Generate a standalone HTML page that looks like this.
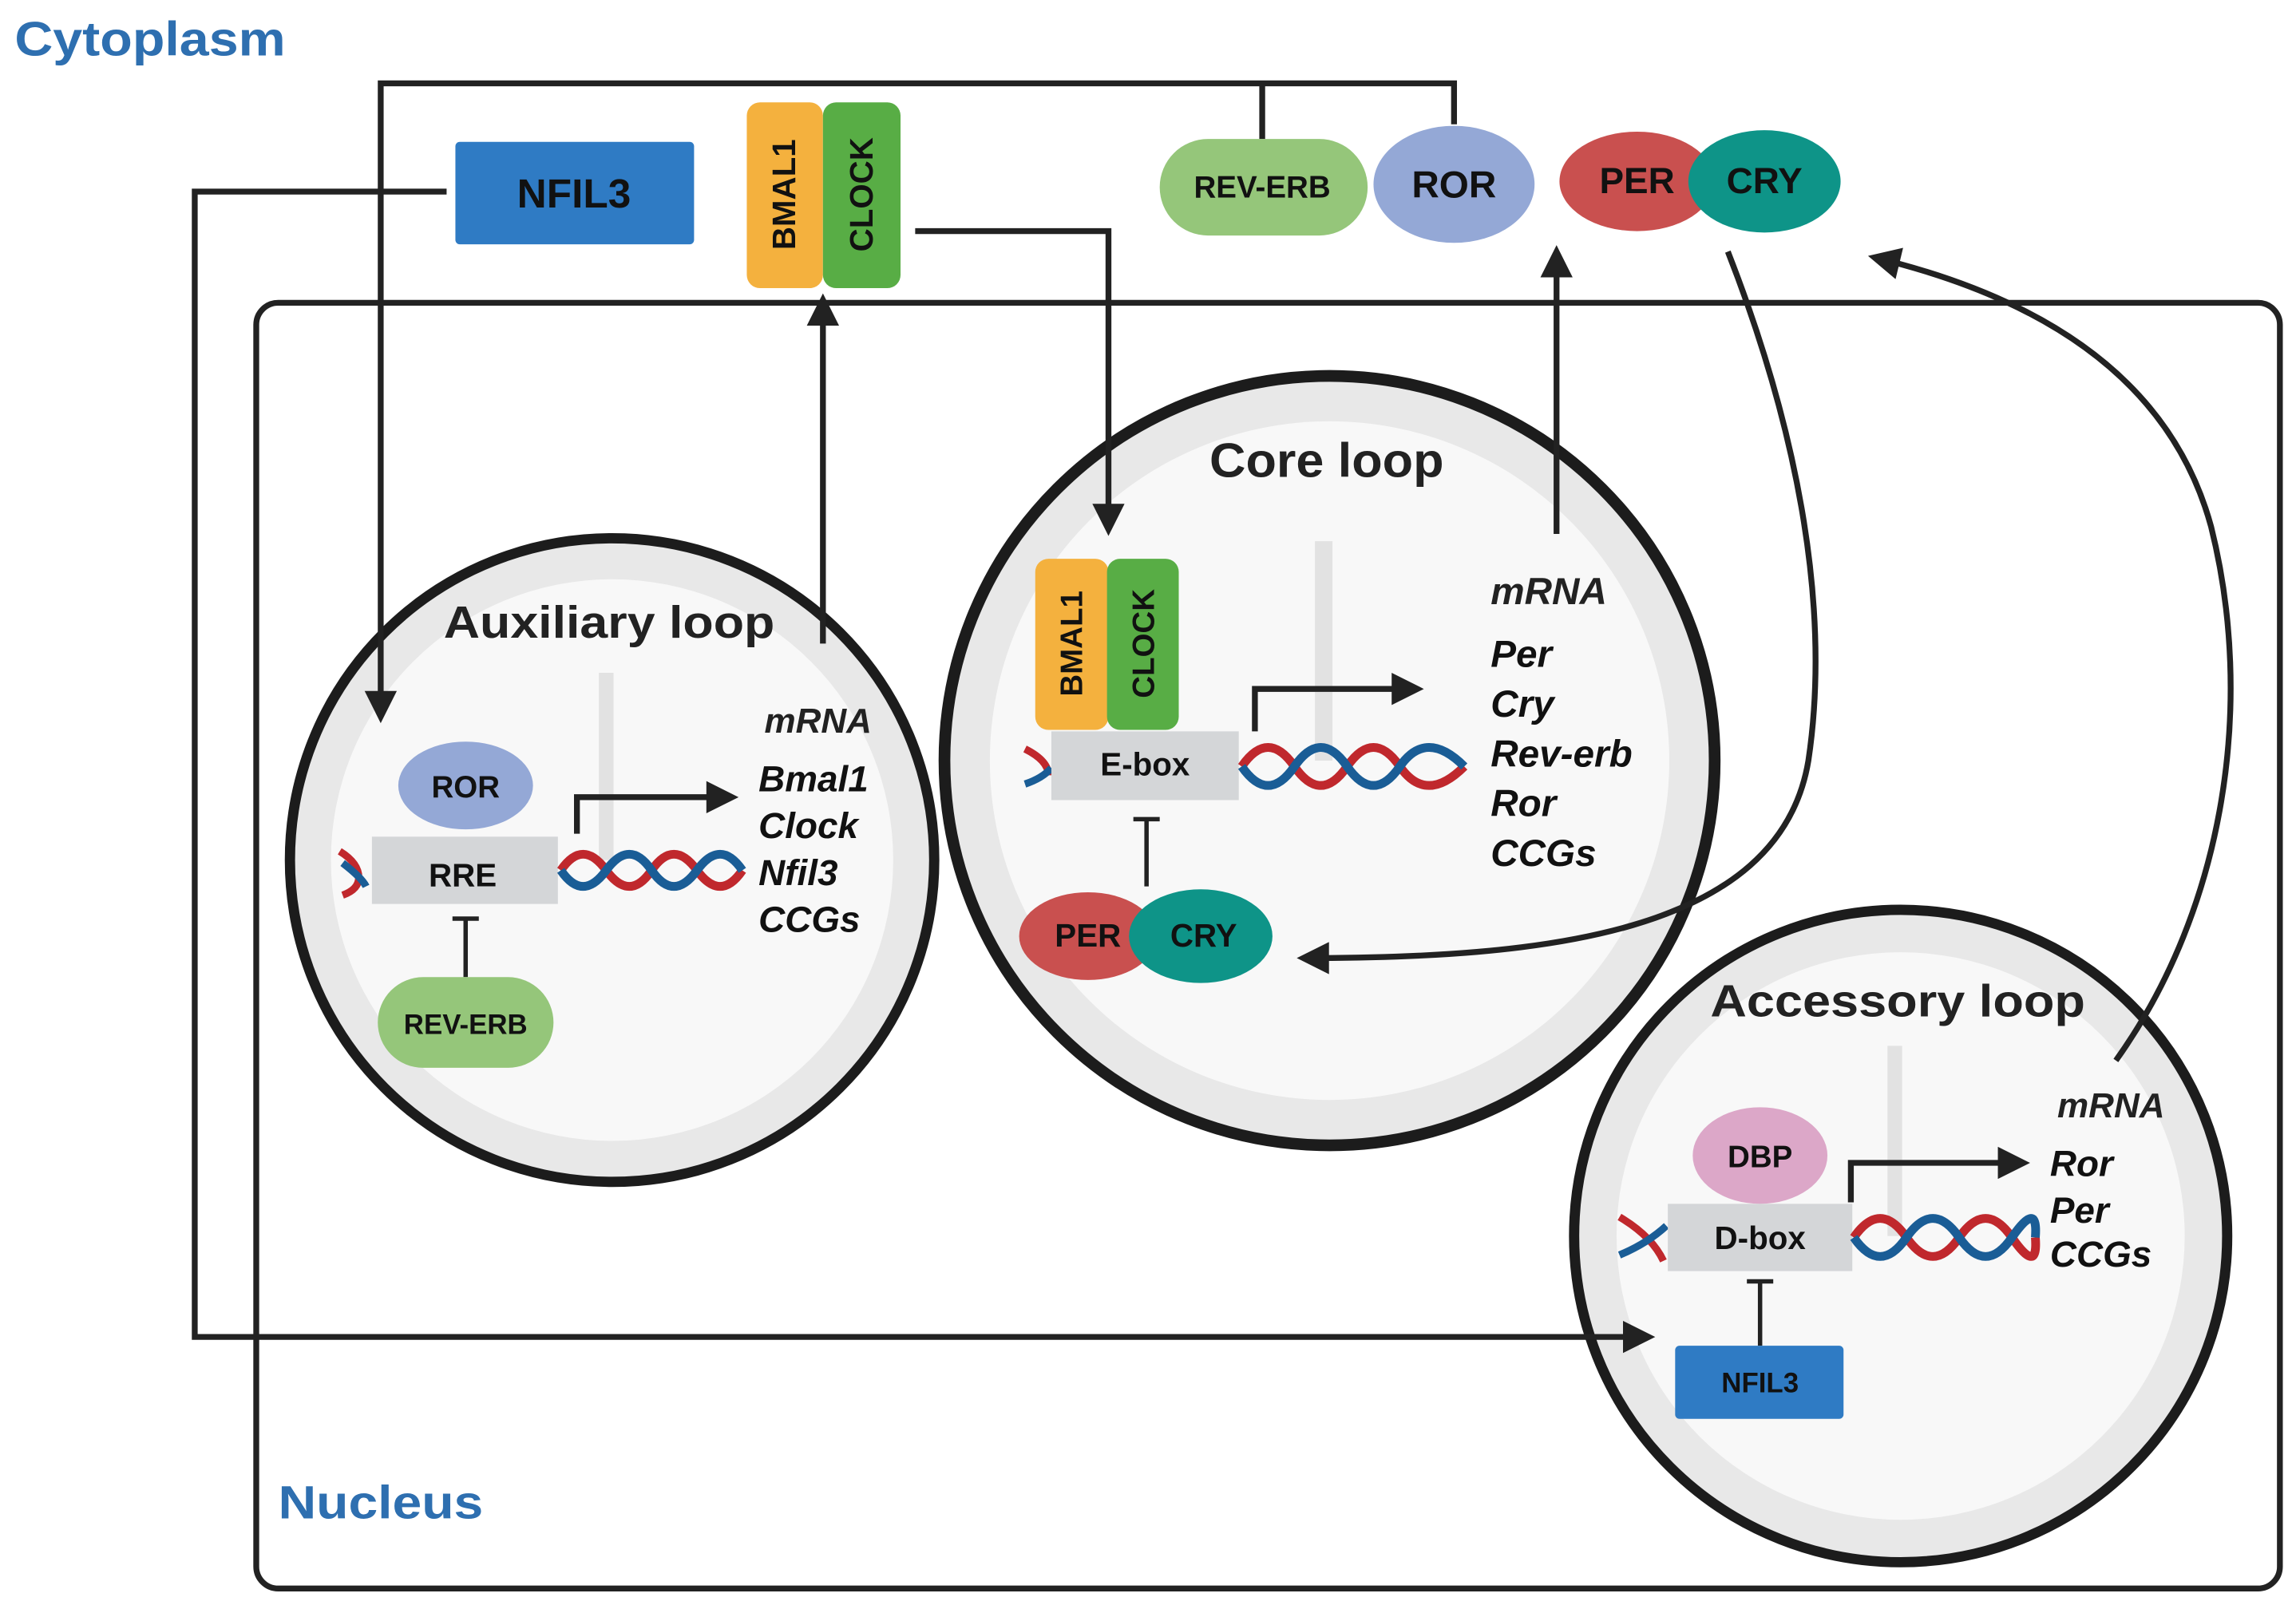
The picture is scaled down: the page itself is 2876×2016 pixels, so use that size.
<!DOCTYPE html>
<html><head><meta charset="utf-8"><style>
html,body{margin:0;padding:0;background:#fff;}
svg{display:block;}
text{font-family:"Liberation Sans",sans-serif;font-weight:bold;}
</style></head><body>
<svg width="2876" height="2016" viewBox="0 0 1568 1100" preserveAspectRatio="none" xmlns="http://www.w3.org/2000/svg">
<defs>
<marker id="a2" viewBox="0 0 10 10" refX="8" refY="5" markerWidth="24" markerHeight="22" orient="auto" markerUnits="userSpaceOnUse"><path d="M0,0 L10,5 L0,10 z" fill="#222"/></marker>
</defs>
<text x="10" y="38" font-size="33" fill="#2e6fb0" textLength="185" lengthAdjust="spacingAndGlyphs">Cytoplasm</text>
<rect x="175" y="207" width="1382" height="879" rx="15" fill="none" stroke="#222" stroke-width="4"/>
<text x="190" y="1038" font-size="32" fill="#2e6fb0" textLength="140" lengthAdjust="spacingAndGlyphs">Nucleus</text>

<g>
<circle cx="418" cy="588" r="220" fill="#e8e8e8" stroke="#1c1c1c" stroke-width="7"/>
<circle cx="418" cy="588" r="192" fill="#f8f8f8"/>
<line x1="414" y1="460" x2="414" y2="588" stroke="#e2e2e2" stroke-width="10"/>
<circle cx="908" cy="520" r="263" fill="#e8e8e8" stroke="#1c1c1c" stroke-width="8"/>
<circle cx="908" cy="520" r="232" fill="#f8f8f8"/>
<line x1="904" y1="370" x2="904" y2="520" stroke="#e2e2e2" stroke-width="12"/>
<circle cx="1298" cy="845" r="223" fill="#e8e8e8" stroke="#1c1c1c" stroke-width="7"/>
<circle cx="1298" cy="845" r="194" fill="#f8f8f8"/>
<line x1="1294" y1="715" x2="1294" y2="845" stroke="#e2e2e2" stroke-width="10"/>
</g>

<g fill="none" stroke="#222" stroke-width="4">
<path d="M993,85 V57 H260 V490" marker-end="url(#a2)"/>
<path d="M862,95 V57"/>
<path d="M305,131 H133 V914 H1126" marker-end="url(#a2)"/>
<path d="M625,158 H757 V362" marker-end="url(#a2)"/>
<path d="M562,440 V205" marker-end="url(#a2)"/>
<path d="M1063,365 V172" marker-end="url(#a2)"/>
<path d="M1180,172 C1230,300 1250,420 1235,520 C1215,640 1050,655 890,655" marker-end="url(#a2)"/>
<path d="M1445,725 C1520,620 1540,480 1510,360 C1480,250 1380,200 1280,176" marker-end="url(#a2)"/>
</g>

<rect x="311" y="97" width="163" height="70" rx="3" fill="#2f7bc4"/>
<text x="392" y="142" font-size="28" text-anchor="middle" fill="#111">NFIL3</text>
<rect x="510" y="70" width="52" height="127" rx="9" fill="#f4b13e"/>
<rect x="562" y="70" width="53" height="127" rx="9" fill="#58ad45"/>
<text transform="translate(543,133) rotate(-90)" font-size="22" text-anchor="middle" fill="#111">BMAL1</text>
<text transform="translate(596,133) rotate(-90)" font-size="22" text-anchor="middle" fill="#111">CLOCK</text>
<rect x="792" y="95" width="142" height="66" rx="33" fill="#95c67a"/>
<text x="862" y="135" font-size="21" text-anchor="middle" fill="#111">REV-ERB</text>
<ellipse cx="993" cy="126" rx="55" ry="40" fill="#94a8d6"/>
<text x="993" y="135" font-size="26" text-anchor="middle" fill="#111">ROR</text>
<ellipse cx="1118" cy="124" rx="53" ry="34" fill="#c9504f"/>
<ellipse cx="1205" cy="124" rx="52" ry="35" fill="#0e9488"/>
<text x="1118" y="132" font-size="25" text-anchor="middle" fill="#111">PER</text>
<text x="1205" y="132" font-size="25" text-anchor="middle" fill="#111">CRY</text>

<text x="416" y="436" font-size="31" text-anchor="middle" fill="#222" textLength="226" lengthAdjust="spacingAndGlyphs">Auxiliary loop</text>
<ellipse cx="318" cy="537" rx="46" ry="30" fill="#94a8d6"/>
<text x="318" y="545" font-size="21" text-anchor="middle" fill="#111">ROR</text>
<path d="M232,582 Q245,590 245,600 Q245,608 234,612" fill="none" stroke="#c0282d" stroke-width="5"/>
<path d="M234,590 Q247,600 250,606" fill="none" stroke="#1a5d96" stroke-width="5"/>
<rect x="254" y="572" width="127" height="46" fill="#d4d6d8"/>
<text x="316" y="606" font-size="22" text-anchor="middle" fill="#111">RRE</text>
<path d="M383,595 Q398,573 414,595 T445,595 T476,595 T507,595" fill="none" stroke="#c0282d" stroke-width="6"/>
<path d="M383,595 Q398,617 414,595 T445,595 T476,595 T507,595" fill="none" stroke="#1a5d96" stroke-width="6"/>
<path d="M394,570 V545 H500" fill="none" stroke="#222" stroke-width="4" marker-end="url(#a2)"/>
<line x1="318" y1="668" x2="318" y2="628" stroke="#222" stroke-width="3"/>
<line x1="309" y1="628" x2="327" y2="628" stroke="#222" stroke-width="3"/>
<rect x="258" y="668" width="120" height="62" rx="31" fill="#95c67a"/>
<text x="318" y="707" font-size="19" text-anchor="middle" fill="#111">REV-ERB</text>
<text x="522" y="501" font-size="24" font-style="italic" font-weight="normal" fill="#222">mRNA</text>
<g font-size="25" font-style="italic" fill="#111">
<text x="518" y="541">Bmal1</text><text x="518" y="573">Clock</text><text x="518" y="605">Nfil3</text><text x="518" y="637">CCGs</text></g>

<text x="906" y="326" font-size="33" text-anchor="middle" fill="#222" textLength="160" lengthAdjust="spacingAndGlyphs">Core loop</text>
<rect x="707" y="382" width="50" height="117" rx="9" fill="#f4b13e"/>
<rect x="756" y="382" width="49" height="117" rx="9" fill="#58ad45"/>
<text transform="translate(739,440) rotate(-90)" font-size="21" text-anchor="middle" fill="#111">BMAL1</text>
<text transform="translate(788,440) rotate(-90)" font-size="21" text-anchor="middle" fill="#111">CLOCK</text>
<path d="M700,512 Q716,520 716,530" fill="none" stroke="#c0282d" stroke-width="5"/>
<path d="M700,536 Q712,532 718,525" fill="none" stroke="#1a5d96" stroke-width="5"/>
<rect x="718" y="500" width="128" height="47" fill="#d4d6d8"/>
<text x="782" y="530" font-size="22" text-anchor="middle" fill="#111">E-box</text>
<path d="M848,524 Q866,498 884,524 T920,524 T956,524 T1000,524" fill="none" stroke="#c0282d" stroke-width="6"/>
<path d="M848,524 Q866,550 884,524 T920,524 T956,524 T1000,524" fill="none" stroke="#1a5d96" stroke-width="6"/>
<path d="M857,500 V471 H968" fill="none" stroke="#222" stroke-width="4" marker-end="url(#a2)"/>
<line x1="783" y1="606" x2="783" y2="560" stroke="#222" stroke-width="3"/>
<line x1="774" y1="560" x2="792" y2="560" stroke="#222" stroke-width="3"/>
<ellipse cx="743" cy="640" rx="47" ry="30" fill="#c9504f"/>
<ellipse cx="820" cy="640" rx="49" ry="32" fill="#0e9488"/>
<text x="743" y="647" font-size="22" text-anchor="middle" fill="#111">PER</text>
<text x="822" y="647" font-size="22" text-anchor="middle" fill="#111">CRY</text>
<text x="1018" y="413" font-size="26" font-style="italic" font-weight="normal" fill="#222">mRNA</text>
<g font-size="26" font-style="italic" fill="#111">
<text x="1018" y="456">Per</text><text x="1018" y="490">Cry</text><text x="1018" y="524">Rev-erb</text><text x="1018" y="558">Ror</text><text x="1018" y="592">CCGs</text></g>

<text x="1296" y="695" font-size="31" text-anchor="middle" fill="#222" textLength="256" lengthAdjust="spacingAndGlyphs">Accessory loop</text>
<ellipse cx="1202" cy="790" rx="46" ry="33" fill="#dca7c8"/>
<text x="1202" y="798" font-size="21" text-anchor="middle" fill="#111">DBP</text>
<path d="M1106,832 Q1128,845 1136,862" fill="none" stroke="#c0282d" stroke-width="5"/>
<path d="M1106,858 Q1125,850 1138,838" fill="none" stroke="#1a5d96" stroke-width="5"/>
<rect x="1139" y="823" width="126" height="46" fill="#d4d6d8"/>
<text x="1202" y="854" font-size="22" text-anchor="middle" fill="#111">D-box</text>
<path d="M1266,846 Q1284,820 1302,846 T1338,846 T1374,846 T1390,846" fill="none" stroke="#c0282d" stroke-width="6"/>
<path d="M1266,846 Q1284,872 1302,846 T1338,846 T1374,846 T1390,846" fill="none" stroke="#1a5d96" stroke-width="6"/>
<path d="M1264,822 V795 H1382" fill="none" stroke="#222" stroke-width="4" marker-end="url(#a2)"/>
<line x1="1202" y1="920" x2="1202" y2="876" stroke="#222" stroke-width="3"/>
<line x1="1193" y1="876" x2="1211" y2="876" stroke="#222" stroke-width="3"/>
<rect x="1144" y="920" width="115" height="50" rx="3" fill="#2f7bc4"/>
<text x="1202" y="952" font-size="19" text-anchor="middle" fill="#111">NFIL3</text>
<text x="1405" y="764" font-size="24" font-style="italic" font-weight="normal" fill="#222">mRNA</text>
<g font-size="25" font-style="italic" fill="#111">
<text x="1400" y="804">Ror</text><text x="1400" y="836">Per</text><text x="1400" y="866">CCGs</text></g>
</svg>
</body></html>
